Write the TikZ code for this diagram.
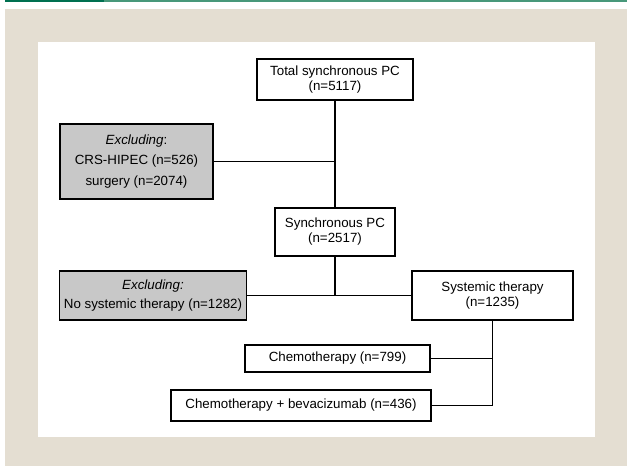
\documentclass[tikz,border=0pt]{standalone}
\usepackage{fontspec}
\setmainfont{Liberation Sans}
\usepackage{tikz}

\definecolor{pagebeige}{RGB}{228,222,210}
\definecolor{bardark}{RGB}{0,112,80}
\definecolor{barlight}{RGB}{72,152,122}
\definecolor{exclgray}{RGB}{200,200,200}

\begin{document}
\begin{tikzpicture}[x=0.75pt,y=0.75pt,yscale=-1,xscale=1,
    flowbox/.style={draw, line width=1.2pt, fill=white, align=center, inner sep=0.75pt,
        font=\fontsize{10}{11.25}\selectfont},
    exclbox/.style={flowbox, fill=exclgray},
    trunk/.style={line width=1.4pt},
    branch/.style={line width=0.9pt}]
        \useasboundingbox (0,0) rectangle (627,466);
        
        %Background
        \fill [pagebeige] (5,9) rectangle (627,466);
        \fill [white] (38,42) rectangle (595,437);
        \fill [bardark] (5,0) rectangle (104,2);
        \fill [barlight] (104,0) rectangle (627,2);
        
        % Text Node
        \node [flowbox, minimum width=117pt, minimum height=31pt] (total) at (335,79.5) {Total synchronous PC\\(n=5117)};
        % Text Node
        \node [exclbox, minimum width=115pt, minimum height=56pt] (exclsurg) at (136.5,161.5) {\textit{Excluding}:\\[4pt]CRS-HIPEC (n=526)\\[4pt]surgery (n=2074)};
        % Text Node
        \node [flowbox, minimum width=90pt, minimum height=36pt] (sync) at (335,232) {Synchronous PC\\(n=2517)};
        % Text Node
        \node [exclbox, minimum width=140pt, minimum height=37pt] (exclsyst) at (153,295.5) {\textit{Excluding:}\\[3pt]No systemic therapy (n=1282)};
        % Text Node
        \node [flowbox, minimum width=121pt, minimum height=37pt] (syst) at (492.5,295.5) {Systemic therapy\\(n=1235)};
        % Text Node
        \node [flowbox, minimum width=139pt, minimum height=20pt] (chemo) at (337.5,358.5) {Chemotherapy (n=799)};
        % Text Node
        \node [flowbox, minimum width=195pt, minimum height=23pt] (chemobev) at (301,405.5) {Chemotherapy + bevacizumab (n=436)};
        
        %Straight Lines
        \draw [trunk] (total.south) -- (sync.north);
        \draw [branch] (exclsurg.east) -- (exclsurg.east -| total.south);
        \draw [trunk] (sync.south) -- (sync.south |- syst.west);
        \draw [branch] (exclsyst.east) -- (syst.west);
        \draw [trunk] (syst.south) -- (syst.south |- chemobev.east);
        \draw [branch] (chemo.east) -- (chemo.east -| syst.south);
        \draw [branch] (chemobev.east) -- (chemobev.east -| syst.south);
        
\end{tikzpicture}
\end{document}
